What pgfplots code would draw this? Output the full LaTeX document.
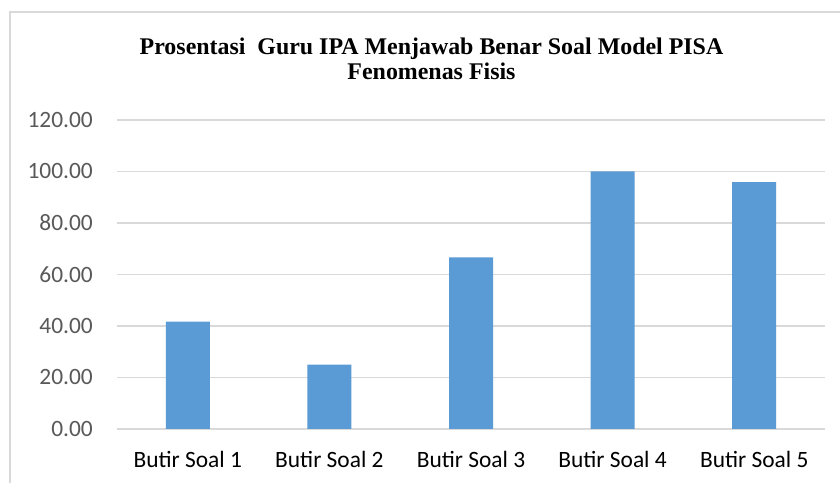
\documentclass[border=0pt]{standalone}
\usepackage{fontspec}
\setmainfont{Carlito}
\newfontfamily\titlefont{Liberation Serif}
\usepackage{pgfplots}
\pgfplotsset{compat=1.18}
\definecolor{barblue}{HTML}{5B9BD5}
\definecolor{gridgray}{HTML}{D9D9D9}
\definecolor{ticktext}{HTML}{595959}
\definecolor{bordergray}{HTML}{D9D9D9}
\begin{document}
\begin{tikzpicture}[x=1bp,y=1bp]
\useasboundingbox (0,0) rectangle (840,483);
\fill[white] (0,0) rectangle (840,483);
\draw[bordergray, line width=1.2bp] (10,0) -- (10,471) -- (840,471);
\node[anchor=base, font=\titlefont\bfseries\fontsize{24}{28}\selectfont] at (431.5,428.7) {Prosentasi\ \ Guru IPA Menjawab Benar Soal Model PISA};
\node[anchor=base, font=\titlefont\bfseries\fontsize{24}{28}\selectfont] at (431.5,403) {Fenomenas Fisis};
\begin{axis}[
  at={(117bp,54bp)}, anchor=south west,
  scale only axis, width=708bp, height=309bp,
  ybar, bar width=44bp,
  xmin=-0.5, xmax=4.5, ymin=0, ymax=120,
  xtick=data,
  xticklabels={Butir Soal 1,Butir Soal 2,Butir Soal 3,Butir Soal 4,Butir Soal 5},
  ytick={0,20,...,120},
  ymajorgrids, grid style={gridgray, line width=1.2bp},
  axis line style={draw=none},
  major tick length=0pt,
  /pgf/number format/assume math mode=true,
  yticklabel={\pgfmathprintnumber[fixed,fixed zerofill,precision=2]{\tick}},
  yticklabel style={inner sep=0pt, xshift=-24bp, text=ticktext, font=\fontsize{23.5}{28}\selectfont},
  xticklabel style={inner sep=0pt, yshift=-22bp, text=black, font=\fontsize{23.5}{28}\selectfont},
  clip=false,
]
\addplot[fill=barblue, draw=none, bar shift=0pt] coordinates {(0,41.67) (1,25.00) (2,66.67) (3,100.00) (4,95.83)};
\end{axis}
\end{tikzpicture}
\end{document}
